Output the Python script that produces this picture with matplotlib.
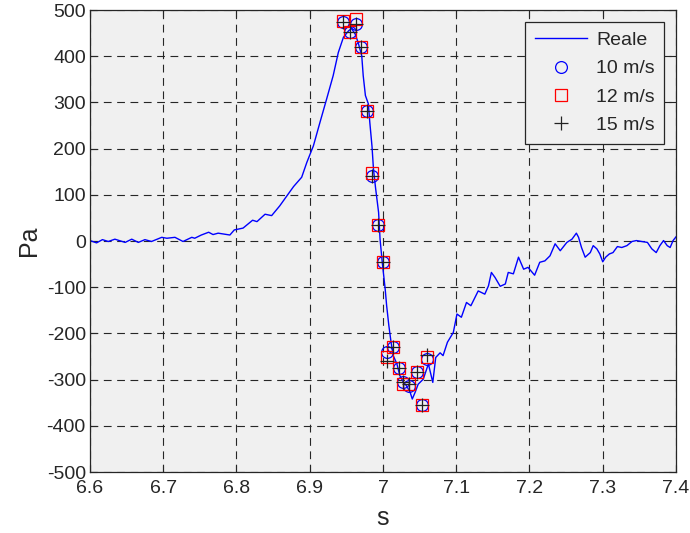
import matplotlib
matplotlib.use("Agg")
import matplotlib.pyplot as plt

# ---- measured signal ("Reale") ----
t_real = [6.600, 6.609, 6.617, 6.625, 6.634, 6.648, 6.657, 6.666, 6.675, 6.684,
          6.698, 6.705, 6.716, 6.727, 6.739, 6.743, 6.752, 6.762, 6.768, 6.775,
          6.791, 6.797, 6.809, 6.822, 6.828, 6.839, 6.848, 6.859, 6.873, 6.878,
          6.889, 6.896, 6.905, 6.914, 6.923, 6.932, 6.939, 6.946, 6.953, 6.957,
          6.962, 6.966, 6.971, 6.973, 6.976, 6.980, 6.982, 6.985, 6.987, 6.990,
          6.994, 6.996, 6.999, 7.003, 7.005, 7.008, 7.011, 7.014, 7.019, 7.023,
          7.028, 7.032, 7.037, 7.040, 7.044, 7.048, 7.055, 7.062, 7.068, 7.072,
          7.078, 7.082, 7.088, 7.096, 7.101, 7.107, 7.114, 7.120, 7.130, 7.139,
          7.144, 7.148, 7.153, 7.160, 7.167, 7.171, 7.178, 7.185, 7.192, 7.198,
          7.207, 7.214, 7.221, 7.228, 7.235, 7.242, 7.251, 7.258, 7.264, 7.267,
          7.271, 7.276, 7.283, 7.287, 7.292, 7.296, 7.300, 7.304, 7.309, 7.314,
          7.320, 7.326, 7.333, 7.340, 7.346, 7.353, 7.361, 7.367, 7.373, 7.378,
          7.383, 7.388, 7.392, 7.396, 7.401]
p_real = [1, -4, 3, -1, 4, -3, 4, -3, 3, -1,
          8, 6, 8, -1, 8, 6, 13, 19, 14, 17,
          13, 24, 28, 45, 42, 58, 55, 76, 107, 118,
          138, 170, 206, 257, 307, 358, 408, 441, 455, 460,
          448, 430, 401, 358, 315, 297, 257, 205, 156, 113,
          62, 4, -46, -104, -140, -183, -219, -248, -266, -291,
          -306, -313, -327, -342, -327, -310, -299, -266, -306, -252,
          -242, -248, -219, -198, -158, -165, -133, -140, -108, -115,
          -97, -68, -79, -98, -93, -68, -71, -35, -61, -57,
          -74, -46, -43, -32, -6, -21, -3, 4, 17, 8,
          -14, -35, -25, -10, -17, -28, -45, -35, -28, -25,
          -12, -14, -10, -1, 1, -1, -3, -17, -25, -10,
          1, -10, -14, 1, 11]

# ---- simulated points ----
t_sim = [6.946, 6.955, 6.963, 6.970, 6.978, 6.985, 6.993, 7.000,
         7.006, 7.014, 7.022, 7.028, 7.035, 7.046, 7.053, 7.060]
p_10 = [475, 452, 470, 419, 282, 141, 35, -45,
        -241, -230, -275, -306, -313, -284, -356, -255]
p_12 = [477, 453, 481, 419, 282, 147, 35, -45,
        -252, -230, -275, -310, -310, -284, -356, -251]
p_15 = [475, 453, 470, 419, 282, 141, 35, -45,
        -259, -230, -275, -306, -310, -284, -356, -247]

x_ticks = [6.6, 6.7, 6.8, 6.9, 7.0, 7.1, 7.2, 7.3, 7.4]
x_labels = ["6.6", "6.7", "6.8", "6.9", "7", "7.1", "7.2", "7.3", "7.4"]
y_ticks = list(range(-500, 501, 100))

plt.rcParams['font.family'] = ['Liberation Sans', 'DejaVu Sans']
plt.rcParams['axes.unicode_minus'] = False

fig = plt.figure(figsize=(6.9, 5.33), dpi=100)
fig.set_facecolor('white')
ax = fig.add_axes([0.1304, 0.1144, 0.8493, 0.8668])
ax.set_facecolor('#f0f0f0')

ax.plot(t_real, p_real, color='#0000ff', linewidth=1.0, label='Reale')
ax.plot(t_sim, p_10, linestyle='none', marker='o', markersize=8.5,
        markerfacecolor='none', markeredgecolor='#0000ff', markeredgewidth=0.9,
        label='10 m/s')
ax.plot(t_sim, p_12, linestyle='none', marker='s', markersize=8,
        markerfacecolor='none', markeredgecolor='#ff0000', markeredgewidth=0.9,
        label='12 m/s')
ax.plot(t_sim, p_15, linestyle='none', marker='+', markersize=9.5,
        markeredgecolor='#222222', markeredgewidth=0.9, label='15 m/s')

ax.set_xlim(6.6, 7.4)
ax.set_ylim(-500, 500)
ax.set_xticks(x_ticks)
ax.set_xticklabels(x_labels)
ax.set_yticks(y_ticks)
ax.tick_params(direction='in', length=5, width=0.8, labelsize=14,
               top=True, right=True, colors='#262626')
ax.tick_params(axis='x', pad=6)
ax.tick_params(axis='y', pad=3)
ax.grid(True, color='#262626', linestyle=(0, (7, 5)), linewidth=0.8)
ax.set_axisbelow(True)
for sp in ax.spines.values():
    sp.set_color('#262626')
    sp.set_linewidth(0.9)

ax.set_xlabel("s", fontsize=18, color='#262626', labelpad=6)
ax.set_ylabel("Pa", fontsize=18, color='#262626', labelpad=4)

leg = ax.legend(loc='upper right', fontsize=14, handlelength=2.7,
                fancybox=False, framealpha=1, facecolor='#f0f0f0',
                edgecolor='#262626', borderaxespad=0.6, labelspacing=0.55,
                handletextpad=0.45, borderpad=0.5)
leg.get_frame().set_linewidth(0.9)
for txt in leg.get_texts():
    txt.set_color('#262626')

fig.savefig("out.png", dpi=100)
